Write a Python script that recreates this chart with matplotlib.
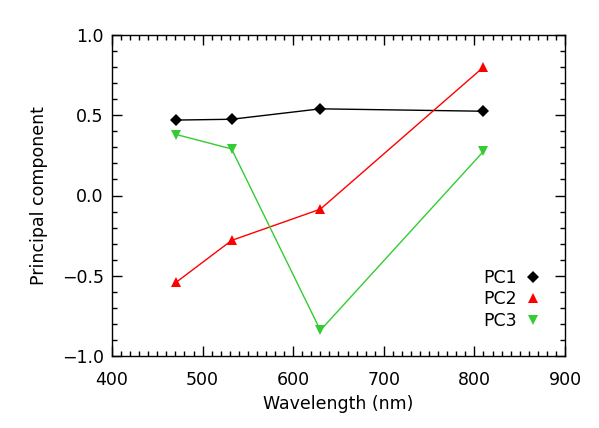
import matplotlib
matplotlib.use("Agg")
import matplotlib.pyplot as plt
from matplotlib.lines import Line2D
from matplotlib.ticker import MultipleLocator

# wavelengths of the four bands (nm)
wavelength = [471, 532, 630, 810]
pc1 = [0.47, 0.475, 0.54, 0.525]
pc2 = [-0.54, -0.28, -0.085, 0.80]
pc3 = [0.38, 0.29, -0.84, 0.275]

labels = ["PC1", "PC2", "PC3"]
colors = ["black", "#ff0000", "#33cc33"]
markers = ["D", "^", "v"]

plt.rcParams["font.family"] = "DejaVu Sans"
fs = 12.5

fig = plt.figure(figsize=(5.99, 4.28), dpi=100)
ax = fig.add_axes([112 / 599, 1 - 356 / 428, 453 / 599, 321 / 428])

for ys, c, m in zip([pc1, pc2, pc3], colors, markers):
    ax.plot(wavelength, ys, color=c, lw=1.0, marker=m,
            markersize=6 if m == "D" else 7.5, markeredgewidth=0)

ax.set_xlim(400, 900)
ax.set_ylim(-1.0, 1.0)
ax.xaxis.set_major_locator(MultipleLocator(100))
ax.xaxis.set_minor_locator(MultipleLocator(10))
ax.yaxis.set_major_locator(MultipleLocator(0.5))
ax.yaxis.set_minor_locator(MultipleLocator(0.1))
ax.yaxis.set_major_formatter(plt.FuncFormatter(lambda v, p: f"{v:.1f}".replace("-", "\u2212")))

ax.tick_params(which="both", direction="in", top=True, right=True, labelsize=fs, width=1.0)
ax.tick_params(which="major", length=7)
ax.tick_params(which="minor", length=3.5)
ax.tick_params(axis="x", which="major", pad=11)
ax.tick_params(axis="y", which="major", pad=6)
for s in ax.spines.values():
    s.set_linewidth(1.0)

ax.set_xlabel("Wavelength (nm)", fontsize=fs, labelpad=4)
ax.set_ylabel("Principal component", fontsize=fs, labelpad=10)

handles = [Line2D([], [], color=c, marker=m, linestyle="none",
                  markersize=6 if m == "D" else 7.5, markeredgewidth=0)
           for c, m in zip(colors, markers)]
ax.legend(handles, labels, loc="lower right", bbox_to_anchor=(0.96, 0.06),
          frameon=False, markerfirst=False, fontsize=fs,
          handlelength=0.8, handletextpad=0.5, labelspacing=0.2,
          borderaxespad=0)

fig.savefig("out.png", dpi=100)
